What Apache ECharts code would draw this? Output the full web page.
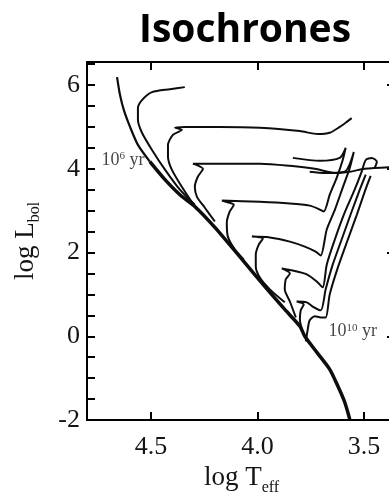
<!DOCTYPE html>
<html>
<head>
<meta charset="utf-8">
<script src="https://cdn.jsdelivr.net/npm/echarts@6/dist/echarts.min.js"></script>
<style>
html, body { margin: 0; padding: 0; background: #fff; }
#chart { width: 389px; height: 498px; }
</style>
</head>
<body>
<div id="chart"></div>
<script>
// [log Teff, log Lbol]
const zamsUpper = [[4.659, 6.19], [4.645, 5.76], [4.627, 5.40], [4.598, 5.00], [4.561, 4.57], [4.505, 4.17]]
const zamsLower = [[4.505, 4.17], [4.434, 3.74], [4.364, 3.38], [4.294, 3.10], [4.200, 2.60], [4.083, 1.90],
  [3.966, 1.19], [3.872, 0.64], [3.801, 0.24], [3.778, 0.00], [3.722, -0.38], [3.661, -0.79],
  [3.623, -1.19], [3.591, -1.57], [3.567, -1.98]]
const isoA = [[4.341, 5.95], [4.411, 5.90], [4.495, 5.83], [4.542, 5.64], [4.561, 5.45], [4.561, 5.17],
  [4.542, 4.86], [4.495, 4.45], [4.434, 3.98], [4.364, 3.50], [4.294, 3.14]]
const isoB = [[4.284, 3.02], [4.355, 3.57], [4.402, 3.98], [4.420, 4.29], [4.420, 4.57], [4.397, 4.81],
  [4.355, 4.93], [4.387, 4.98], [4.341, 5.00], [4.177, 5.00], [3.989, 4.98], [3.801, 4.90],
  [3.717, 4.83], [3.661, 4.86], [3.614, 5.00], [3.581, 5.12], [3.558, 5.21]]
const isoC = [[4.200, 2.74], [4.247, 3.07], [4.284, 3.33], [4.294, 3.57], [4.280, 3.81], [4.256, 4.00],
  [4.289, 4.10], [4.303, 4.12], [4.130, 4.12], [3.989, 4.12], [3.848, 4.07], [3.731, 4.00],
  [3.637, 3.90], [3.567, 3.93], [3.497, 4.00], [3.333, 4.05]]
const isoD = [[4.064, 1.83], [4.106, 2.07], [4.139, 2.38], [4.144, 2.71], [4.130, 2.98], [4.111, 3.14],
  [4.148, 3.21], [4.167, 3.24], [3.989, 3.21], [3.848, 3.17], [3.755, 3.12], [3.717, 3.05],
  [3.689, 2.98], [3.661, 3.38], [3.628, 3.79], [3.600, 4.21], [3.586, 4.50], [3.614, 4.26],
  [3.708, 4.19], [3.834, 4.26]]
const isoE = [[3.872, 0.81], [3.942, 1.12], [3.989, 1.40], [4.008, 1.67], [4.008, 1.95], [3.994, 2.19],
  [3.975, 2.33], [4.026, 2.38], [3.942, 2.36], [3.848, 2.26], [3.778, 2.14], [3.727, 2.02],
  [3.703, 1.93], [3.675, 2.55], [3.637, 3.02], [3.600, 3.55], [3.567, 4.02], [3.548, 4.40],
  [3.591, 3.93], [3.684, 3.90], [3.755, 3.93]]
const isoF = [[3.820, 0.45], [3.848, 0.83], [3.872, 1.12], [3.867, 1.36], [3.848, 1.50], [3.886, 1.62],
  [3.834, 1.57], [3.769, 1.48], [3.722, 1.31], [3.694, 1.17], [3.675, 1.71], [3.637, 2.31],
  [3.591, 2.95], [3.544, 3.50], [3.511, 3.93], [3.492, 4.21], [3.464, 4.26], [3.440, 4.17], [3.450, 4.02]]
const isoG = [[3.787, 0.10], [3.801, 0.40], [3.797, 0.62], [3.783, 0.76], [3.816, 0.83], [3.769, 0.81],
  [3.741, 0.71], [3.703, 0.62], [3.680, 1.12], [3.647, 1.71], [3.605, 2.31], [3.558, 2.98],
  [3.520, 3.50], [3.492, 3.86]]
const isoH = [[3.773, -0.12], [3.764, 0.17], [3.755, 0.38], [3.731, 0.48], [3.703, 0.45], [3.680, 0.45],
  [3.661, 1.00], [3.623, 1.64], [3.576, 2.31], [3.534, 2.90], [3.497, 3.45], [3.469, 3.83]]

const xTicks = [3.5, 4.0, 4.5]
const yMajor = [-2, 0, 2, 4, 6]
const ageLabels = ['10{sup|6} yr', '10{sup|10} yr']
const agePos = [[4.631, 4.21], [3.553, 0.12]]

const serif = 'Liberation Serif'
const ink = '#0d0d0d'
const txt = '#141414'
const frame = { onZero: false, lineStyle: { color: '#000', width: 2 } }

function isoLine(data, width) {
  return {
    type: 'line',
    data: data,
    symbol: 'none',
    smooth: 0.25,
    lineStyle: { color: ink, width: width || 2 },
    silent: true
  }
}

const chart = echarts.init(document.getElementById('chart'))
chart.setOption({
  animation: false,
  title: {
    text: 'Isochrones',
    left: 139,
    top: 11,
    padding: 0,
    textStyle: { fontFamily: 'Open Sans', fontWeight: 'bold', fontSize: 39, color: '#000' }
  },
  grid: { left: 87, width: 309, top: 62, bottom: 78, outerBoundsMode: 'none' },
  xAxis: [{
    type: 'value',
    position: 'bottom',
    inverse: true,
    min: 3.35,
    max: 4.8,
    splitLine: { show: false },
    axisLine: frame,
    axisTick: { inside: true, length: 8, customValues: xTicks, lineStyle: { color: '#000', width: 2 } },
    axisLabel: {
      customValues: xTicks,
      formatter: v => v.toFixed(1),
      fontFamily: serif, fontSize: 26, color: txt, margin: 14
    },
    name: '{m|log T}{s|eff}',
    nameLocation: 'middle',
    nameGap: 40,
    nameTextStyle: {
      rich: {
        m: { fontFamily: serif, fontSize: 27, color: txt, lineHeight: 34 },
        s: { fontFamily: serif, fontSize: 16, color: txt, verticalAlign: 'bottom' }
      }
    }
  }, {
    type: 'value',
    position: 'top',
    inverse: true,
    min: 3.35,
    max: 4.8,
    splitLine: { show: false },
    axisLine: frame,
    axisTick: { inside: true, length: 8, customValues: xTicks, lineStyle: { color: '#000', width: 2 } },
    axisLabel: { show: false }
  }],
  yAxis: [{
    type: 'value',
    position: 'left',
    min: -2,
    max: 6.55,
    interval: 0.5,
    splitLine: { show: false },
    axisLine: frame,
    axisTick: { inside: true, length: 8, lineStyle: { color: '#000', width: 2 } },
    axisLabel: {
      formatter: v => (v % 2 === 0 ? String(v) : ''),
      fontFamily: serif, fontSize: 26, color: txt, margin: 7
    },
    name: '{m|log L}{s|bol}',
    nameLocation: 'middle',
    nameRotate: 90,
    nameGap: 44,
    nameTextStyle: {
      rich: {
        m: { fontFamily: serif, fontSize: 27, color: txt, lineHeight: 34 },
        s: { fontFamily: serif, fontSize: 16, color: txt, verticalAlign: 'bottom' }
      }
    }
  }, {
    type: 'value',
    position: 'right',
    min: -2,
    max: 6.55,
    splitLine: { show: false },
    axisLine: frame,
    axisTick: { inside: true, length: 9, customValues: yMajor, lineStyle: { color: '#000', width: 2 } },
    axisLabel: { show: false }
  }],
  series: [
    isoLine(zamsUpper, 2.2),
    isoLine(zamsLower, 3.5),
    isoLine(isoA),
    isoLine(isoB),
    isoLine(isoC),
    isoLine(isoD),
    isoLine(isoE),
    isoLine(isoF),
    isoLine(isoG),
    isoLine(isoH),
    {
      type: 'scatter',
      data: agePos.map((p, i) => ({ value: p, name: ageLabels[i] })),
      symbolSize: 0,
      silent: true,
      label: {
        show: true,
        position: 'inside',
        formatter: p => p.name,
        fontFamily: serif,
        fontSize: 18,
        color: txt,
        rich: {
          sup: { fontFamily: serif, fontSize: 11, color: txt, verticalAlign: 'top' }
        }
      }
    }
  ]
})
</script>
</body>
</html>
